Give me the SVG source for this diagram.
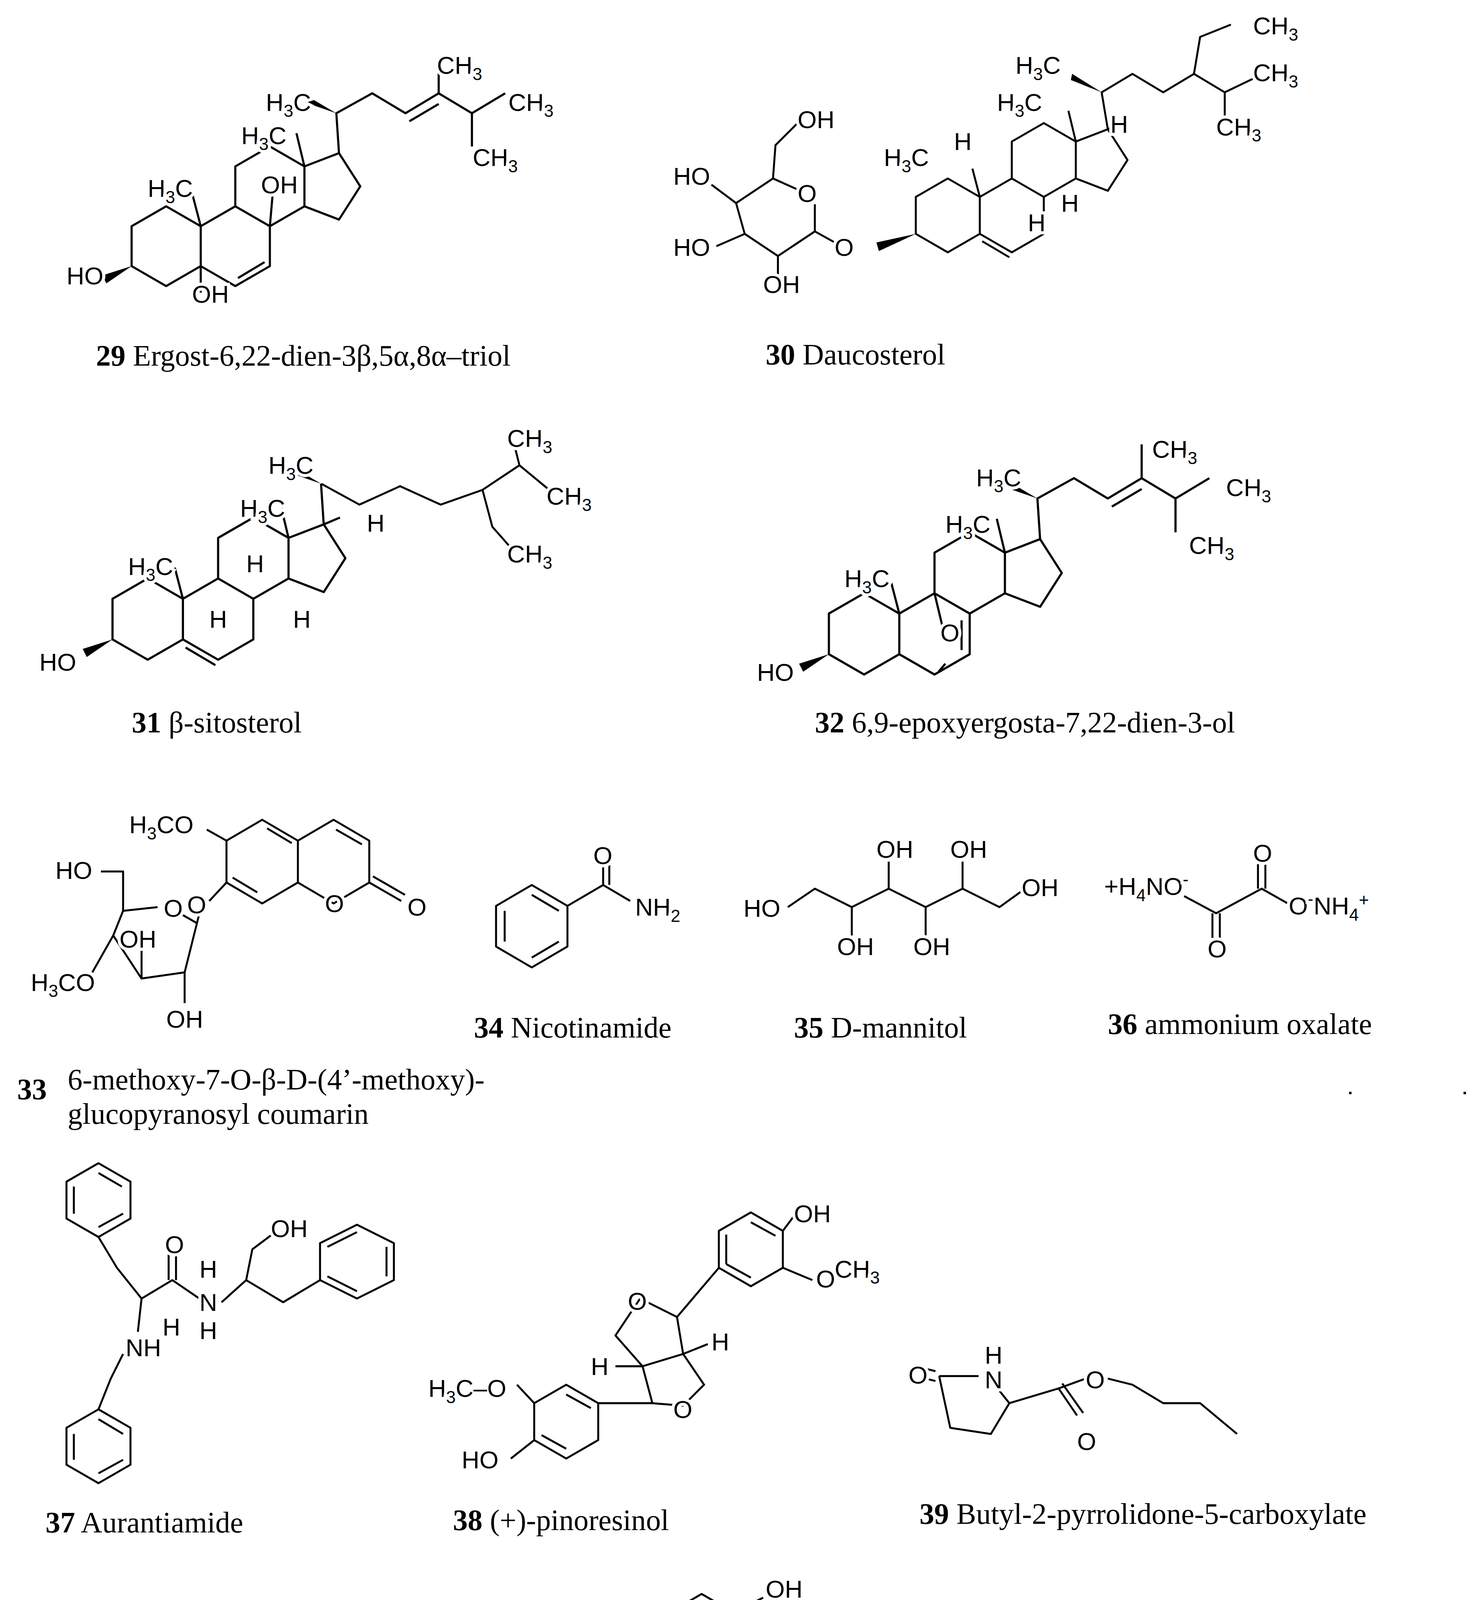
<svg xmlns="http://www.w3.org/2000/svg" xmlns:xlink="http://www.w3.org/1999/xlink" width="3781" height="4962" viewBox="0 0 3781 4962">
<style>
.b{fill:none;stroke:#000;stroke-width:1.6;stroke-linejoin:round}
.w{fill:#000;stroke:none}
.a{font-family:"Liberation Sans",Arial,sans-serif;font-size:20px;fill:#000;stroke:#fff;stroke-width:5px;paint-order:stroke}
.c{font-family:"Liberation Serif","Times New Roman",serif;font-size:24px;fill:#000}
.s{font-size:14px}
</style>
<defs>
<path id="st" class="b" d="M0,-30 L26,-15 L26,15 L0,30 L-26,15 L-26,-15 Z M26,-15 L52,-30 L78,-15 L78,15 L52,30 L26,15 M52,-30 L52,-60 L78,-75 L104,-60 L104,-30 L78,-15 M104,-60 L130,-70 L146,-45 L130,-20 L104,-30"/>
</defs>
<rect width="3781" height="4962" fill="#fff"/>
<g transform="scale(3.151)">
<!-- 29 -->
<g id="m29">
<g transform="translate(135,200) scale(1.08)">
<use xlink:href="#st"/>
<path class="b" d="M26,-15 L20,-38 M104,-60 L98,-85 M78,-15 L80,-38 M26,15 L26,35 M54,24 L74,12 M130,-70 L128,-100 L155,-115 L180,-100 L205,-115 L230,-100 L255,-115 M183,-94 L205,-107 M205,-115 L205,-140 M230,-100 L230,-75"/>
<path class="w" d="M-26,15 L-48,22 L-45,28 Z M128,-100 L105,-108 L106,-113 Z"/>
</g>
<text class="a" x="216" y="90">H<tspan class="s" dy="5">3</tspan><tspan dy="-5">C</tspan></text>
<text class="a" x="355" y="60">CH<tspan class="s" dy="5">3</tspan></text>
<text class="a" x="413" y="90">CH<tspan class="s" dy="5">3</tspan></text>
<text class="a" x="384" y="135">CH<tspan class="s" dy="5">3</tspan></text>
<text class="a" x="196" y="117">H<tspan class="s" dy="5">3</tspan><tspan dy="-5">C</tspan></text>
<text class="a" x="120" y="160">H<tspan class="s" dy="5">3</tspan><tspan dy="-5">C</tspan></text>
<text class="a" x="212" y="157">OH</text>
<text class="a" x="54" y="231">HO</text>
<text class="a" x="156" y="246">OH</text>
<text class="c" x="78" y="297"><tspan font-weight="bold">29</tspan>  Ergost-6,22-dien-3β,5α,8α–triol</text>
</g>
<!-- 30 -->
<g id="m30">
<g transform="translate(770,175)">
<use xlink:href="#st"/>
<path class="b" d="M26,-15 L20,-38 M104,-60 L98,-85 M28,21 L50,34 M130,-70 L125,-100 L150,-115 L175,-100 L200,-115 L205,-145 L230,-155 M200,-115 L225,-100 L250,-112 M225,-100 L225,-75 M130,-70 L140,-75"/>
<path class="w" d="M125,-100 L100,-110 L101,-115 Z M-26,15 L-58,22 L-56,29 Z"/>
</g>
<path class="b" d="M648,154 L628,145 L598,165 L605,190 L632,208 L662,188 L662,166 M662,188 L680,198 M628,145 L630,118 L648,100 M632,208 L632,225 M598,165 L578,150 M605,190 L582,200"/>
<text class="a" x="648" y="164">O</text>
<text class="a" x="678" y="208">O</text>
<text class="a" x="648" y="104">OH</text>
<text class="a" x="547" y="150">HO</text>
<text class="a" x="547" y="208">HO</text>
<text class="a" x="620" y="238">OH</text>
<text class="a" x="825" y="60">H<tspan class="s" dy="5">3</tspan><tspan dy="-5">C</tspan></text>
<text class="a" x="810" y="90">H<tspan class="s" dy="5">3</tspan><tspan dy="-5">C</tspan></text>
<text class="a" x="718" y="135">H<tspan class="s" dy="5">3</tspan><tspan dy="-5">C</tspan></text>
<text class="a" x="1018" y="28">CH<tspan class="s" dy="5">3</tspan></text>
<text class="a" x="1018" y="66">CH<tspan class="s" dy="5">3</tspan></text>
<text class="a" x="988" y="110">CH<tspan class="s" dy="5">3</tspan></text>
<text class="a" x="902" y="108">H</text>
<text class="a" x="775" y="122">H</text>
<text class="a" x="835" y="188">H</text>
<text class="a" x="862" y="172">H</text>
<text class="c" x="622" y="296"><tspan font-weight="bold">30</tspan>  Daucosterol</text>
</g>
<!-- 31 -->
<g id="m31">
<g transform="translate(120,503) scale(1.1)">
<use xlink:href="#st"/>
<path class="b" d="M26,-15 L20,-38 M104,-60 L98,-85 M28,21 L50,34 M130,-70 L128,-100 M130,-70 L142,-75"/>
<path class="w" d="M128,-100 L105,-108 L106,-113 Z M-26,15 L-48,22 L-45,28 Z"/>
</g>
<path class="b" d="M261,393 L292,410 L325,395 L358,410 L392,398 L422,378 L418,362 M422,378 L445,397 M392,398 L400,428 L415,445"/>
<text class="a" x="218" y="385">H<tspan class="s" dy="5">3</tspan><tspan dy="-5">C</tspan></text>
<text class="a" x="195" y="420">H<tspan class="s" dy="5">3</tspan><tspan dy="-5">C</tspan></text>
<text class="a" x="104" y="467">H<tspan class="s" dy="5">3</tspan><tspan dy="-5">C</tspan></text>
<text class="a" x="412" y="363">CH<tspan class="s" dy="5">3</tspan></text>
<text class="a" x="444" y="410">CH<tspan class="s" dy="5">3</tspan></text>
<text class="a" x="412" y="457">CH<tspan class="s" dy="5">3</tspan></text>
<text class="a" x="298" y="432">H</text>
<text class="a" x="200" y="465">H</text>
<text class="a" x="170" y="510">H</text>
<text class="a" x="238" y="510">H</text>
<text class="a" x="32" y="545">HO</text>
<text class="c" x="107" y="595"><tspan font-weight="bold">31</tspan>  β-sitosterol</text>
</g>
<!-- 32 -->
<g id="m32">
<g transform="translate(702,515) scale(1.1)">
<use xlink:href="#st"/>
<path class="b" d="M26,-15 L20,-38 M104,-60 L98,-85 M72,-10 L72,12 M130,-70 L128,-100 L155,-115 L180,-100 L205,-115 L230,-100 L255,-115 M183,-94 L205,-107 M205,-115 L205,-140 M230,-100 L230,-75 M52,-30 L58,-5 M60,22 L55,28"/>
<path class="w" d="M-26,15 L-48,22 L-45,28 Z M128,-100 L105,-108 L106,-113 Z"/>
</g>
<text class="a" x="764" y="521">O</text>
<text class="a" x="793" y="395">H<tspan class="s" dy="5">3</tspan><tspan dy="-5">C</tspan></text>
<text class="a" x="768" y="433">H<tspan class="s" dy="5">3</tspan><tspan dy="-5">C</tspan></text>
<text class="a" x="686" y="477">H<tspan class="s" dy="5">3</tspan><tspan dy="-5">C</tspan></text>
<text class="a" x="936" y="372">CH<tspan class="s" dy="5">3</tspan></text>
<text class="a" x="996" y="403">CH<tspan class="s" dy="5">3</tspan></text>
<text class="a" x="966" y="450">CH<tspan class="s" dy="5">3</tspan></text>
<text class="a" x="615" y="553">HO</text>
<text class="c" x="662" y="595"><tspan font-weight="bold">32</tspan>  6,9-epoxyergosta-7,22-dien-3-ol</text>
</g>
<!-- 33 -->
<g id="m33">
<path class="b" d="M213,666 L242,683 L242,717 L213,734 L184,717 L184,683 Z M217,673 L237,685 M189,713 L209,725 M242,683 L271,666 L300,683 L300,717 L271,734 L242,717 M273,674 L294,686 M300,717 L326,732 M303,712 L329,727 M184,683 L168,674 M184,717 L170,732"/>
<path class="b" d="M128,737 L100,740 L92,760 L115,795 L150,790 L160,750 L146,742 M100,740 L100,708 L82,708 M115,795 L115,765 M150,790 L150,815 M92,760 L75,790 M160,750 L163,738"/>
<text class="a" x="264" y="741">O</text>
<text class="a" x="331" y="744">O</text>
<text class="a" x="105" y="677">H<tspan class="s" dy="5">3</tspan><tspan dy="-5">CO</tspan></text>
<text class="a" x="133" y="745">O</text>
<text class="a" x="152" y="742">O</text>
<text class="a" x="45" y="714">HO</text>
<text class="a" x="97" y="770">OH</text>
<text class="a" x="25" y="805">H<tspan class="s" dy="5">3</tspan><tspan dy="-5">CO</tspan></text>
<text class="a" x="135" y="835">OH</text>
<text class="c" x="14" y="893" font-weight="bold">33</text>
<text class="c" x="55" y="885">6-methoxy-7-O-β-D-(4’-methoxy)-</text>
<text class="c" x="55" y="913">glucopyranosyl coumarin</text>
</g>
<!-- 34 -->
<g id="m34">
<path class="b" d="M432,719 L461,736 L461,769 L432,786 L403,769 L403,736 Z M432,727 L454,740 M454,765 L432,778 M410,765 L410,740 M461,736 L490,719 L512,732 M490,719 L490,700 M495,719 L495,700"/>
<text class="a" x="482" y="702">O</text>
<text class="a" x="516" y="744">NH<tspan class="s" dy="5">2</tspan></text>
<text class="c" x="385" y="843"><tspan font-weight="bold">34</tspan>   Nicotinamide</text>
</g>
<!-- 35 -->
<g id="m35">
<path class="b" d="M640,737 L662,722 L692,737 L722,722 L752,737 L782,722 L812,737 L830,724 M692,737 L692,760 M722,722 L722,700 M752,737 L752,760 M782,722 L782,700"/>
<text class="a" x="604" y="745">HO</text>
<text class="a" x="830" y="728">OH</text>
<text class="a" x="712" y="697">OH</text>
<text class="a" x="772" y="697">OH</text>
<text class="a" x="680" y="776">OH</text>
<text class="a" x="742" y="776">OH</text>
<text class="c" x="645" y="843"><tspan font-weight="bold">35</tspan> D-mannitol</text>
</g>
<!-- 36 -->
<g id="m36">
<path class="b" d="M962,728 L988,742 L1025,722 L1048,735 M985,742 L985,762 M991,742 L991,762 M1022,722 L1022,702 M1028,722 L1028,702"/>
<text class="a" x="897" y="727">+H<tspan class="s" dy="5">4</tspan><tspan dy="-5">NO</tspan><tspan class="s" dy="-8">-</tspan></text>
<text class="a" x="981" y="778">O</text>
<text class="a" x="1018" y="700">O</text>
<text class="a" x="1047" y="743">O<tspan class="s" dy="-8">-</tspan><tspan dy="8">NH</tspan><tspan class="s" dy="5">4</tspan><tspan class="s" dy="-12">+</tspan></text>
<text class="c" x="900" y="840"><tspan font-weight="bold">36</tspan>  ammonium  oxalate</text>
<rect x="1096" y="887" width="2" height="2"/><rect x="1189" y="887" width="2" height="2"/>
</g>
<!-- 37 -->
<g id="m37">
<path class="b" d="M80,945 L106,960 L106,990 L80,1005 L54,990 L54,960 Z M80,953 L99,964 M100,986 L80,997 M60,986 L60,964 M80,1005 L95,1030 L115,1055 L140,1040 L162,1055 M137,1040 L137,1018 M143,1040 L143,1018 M180,1058 L200,1040 L205,1015 L225,1000 M200,1040 L230,1058 L260,1040 M260,1040 L260,1010 L290,995 L320,1010 L320,1040 L290,1055 Z M266,1013 L290,1001 M314,1013 L314,1037 M266,1037 L290,1049 M115,1055 L112,1082 M100,1100 L90,1120 L80,1145 M80,1145 L106,1160 L106,1190 L80,1205 L54,1190 L54,1160 Z M80,1153 L100,1165 M100,1186 L80,1197 M60,1186 L60,1165"/>
<text class="a" x="134" y="1018">O</text>
<text class="a" x="162" y="1038">H</text>
<text class="a" x="162" y="1065">N</text>
<text class="a" x="132" y="1085">H</text>
<text class="a" x="162" y="1088">H</text>
<text class="a" x="102" y="1102">NH</text>
<text class="a" x="220" y="1005">OH</text>
<text class="c" x="37" y="1245"><tspan font-weight="bold">37</tspan>  Aurantiamide</text>
</g>
<!-- 38 -->
<g id="m38">
<path class="b" d="M610,985 L636,1000 L636,1030 L610,1045 L584,1030 L584,1000 Z M610,993 L630,1004 M590,1027 L610,1038 M590,1003 L590,1027 M636,1000 L645,988 M636,1030 L660,1040"/>
<path class="b" d="M550,1070 L520,1055 L500,1085 L522,1110 L555,1100 L550,1070 M522,1110 L530,1140 L555,1142 L572,1125 L555,1100 M550,1070 L584,1030 M530,1140 L486,1140 M522,1110 L500,1110 M555,1100 L575,1092"/>
<path class="b" d="M460,1125 L486,1140 L486,1170 L460,1185 L434,1170 L434,1140 Z M460,1133 L480,1144 M440,1166 L460,1177 M434,1140 L420,1125 M434,1170 L415,1185"/>
<text class="a" x="645" y="993">OH</text>
<text class="a" x="663" y="1046">O</text>
<text class="a" x="678" y="1038">CH<tspan class="s" dy="5">3</tspan></text>
<text class="a" x="510" y="1064">O</text>
<text class="a" x="578" y="1097">H</text>
<text class="a" x="480" y="1117">H</text>
<text class="a" x="547" y="1152">O</text>
<text class="a" x="348" y="1135">H<tspan class="s" dy="5">3</tspan><tspan dy="-5">C–O</tspan></text>
<text class="a" x="375" y="1193">HO</text>
<text class="c" x="368" y="1243"><tspan font-weight="bold">38</tspan>  (+)-pinoresinol</text>
</g>
<!-- 39 -->
<g id="m39">
<path class="b" d="M763,1118 L795,1118 M763,1118 L772,1160 L805,1165 L820,1140 L808,1125 M760,1114 L752,1112 M760,1122 L752,1120 M820,1140 L860,1128 L875,1150 M863,1124 L880,1148 M860,1128 L882,1120 M900,1120 L920,1125 L945,1140 L975,1140 L1005,1165"/>
<text class="a" x="738" y="1124">O</text>
<text class="a" x="800" y="1108">H</text>
<text class="a" x="800" y="1128">N</text>
<text class="a" x="875" y="1178">O</text>
<text class="a" x="882" y="1128">O</text>
<text class="c" x="747" y="1238"><tspan font-weight="bold">39</tspan>  Butyl-2-pyrrolidone-5-carboxylate</text>
</g>
<!-- 40 -->
<g id="m40">
<path class="b" d="M130,1345 L158,1360 L165,1390 L150,1420 L110,1420 L100,1390 L110,1360 Z M130,1345 L115,1340 M130,1345 L140,1338 M158,1360 L190,1360 L210,1380 L225,1385 M188,1366 L205,1382 M210,1380 L190,1410 M165,1390 L180,1410 M150,1420 L150,1430 L155,1440"/>
<path class="w" d="M100,1390 L78,1400 L81,1406 Z"/>
<text class="a" x="68" y="1338">H<tspan class="s" dy="5">3</tspan><tspan dy="-5">C</tspan></text>
<text class="a" x="132" y="1338">CH<tspan class="s" dy="5">3</tspan></text>
<text class="a" x="228" y="1395">O</text>
<text class="a" x="178" y="1420">O</text>
<text class="a" x="38" y="1425">HO</text>
<text class="a" x="143" y="1443">CH<tspan class="s" dy="5">3</tspan></text>
<text class="c" x="33" y="1527"><tspan font-weight="bold">40</tspan>  Isololiolide</text>
</g>
<!-- 41 -->
<g id="m41">
<path class="b" d="M570,1295 L596,1310 L596,1340 L570,1355 L544,1340 L544,1310 Z M570,1303 L590,1314 M550,1337 L570,1348 M550,1313 L550,1337 M596,1310 L620,1298 M596,1340 L620,1350"/>
<path class="b" d="M512,1340 L482,1330 L460,1350 L468,1375 L505,1372 L512,1340 M468,1375 L478,1410 L493,1420 L515,1400 L505,1372 M512,1340 L544,1340 M478,1410 L426,1410 M512,1340 L510,1318 M468,1375 L448,1375 M505,1372 L525,1378 M478,1410 L462,1435"/>
<path class="b" d="M400,1395 L426,1410 L426,1440 L400,1455 L374,1440 L374,1410 Z M400,1403 L420,1414 M380,1437 L400,1449 M374,1410 L355,1395 M374,1440 L350,1450 M400,1455 L395,1480"/>
<text class="a" x="503" y="1320">H</text>
<text class="a" x="470" y="1340">O</text>
<text class="a" x="622" y="1298">OH</text>
<text class="a" x="622" y="1362">O</text>
<text class="a" x="652" y="1345">CH<tspan class="s" dy="5">3</tspan></text>
<text class="a" x="428" y="1380">H</text>
<text class="a" x="527" y="1383">H</text>
<text class="a" x="484" y="1433">O</text>
<text class="a" x="452" y="1448">H</text>
<text class="a" x="340" y="1390">O</text>
<text class="a" x="356" y="1362">CH<tspan class="s" dy="5">3</tspan></text>
<text class="a" x="307" y="1456">HO</text>
<text class="a" x="373" y="1490">O</text>
<text class="a" x="393" y="1514">CH<tspan class="s" dy="5">3</tspan></text>
<text class="c" x="352" y="1552"><tspan font-weight="bold">41</tspan>  (+)-mediorisinol</text>
</g>
<!-- 42 -->
<g id="m42">
<path class="b" d="M810,1440 L825,1414 L855,1414 L870,1440 L855,1466 L825,1466 Z M829,1421 L851,1421 M829,1459 L851,1459 M790,1440 L810,1440 M870,1440 L895,1440 L920,1418 L955,1418 M917,1418 L912,1400 M923,1416 L918,1400 M975,1425 L985,1438"/>
<text class="a" x="753" y="1448">HO</text>
<text class="a" x="908" y="1398">O</text>
<text class="a" x="958" y="1422">O</text>
<text class="a" x="975" y="1450">O–CH<tspan class="s" dy="5">3</tspan></text>
<text class="c" x="753" y="1545"><tspan font-weight="bold">42</tspan>  Methyl 4-hydroxyphenylacetate</text>
</g>
</g>
</svg>
